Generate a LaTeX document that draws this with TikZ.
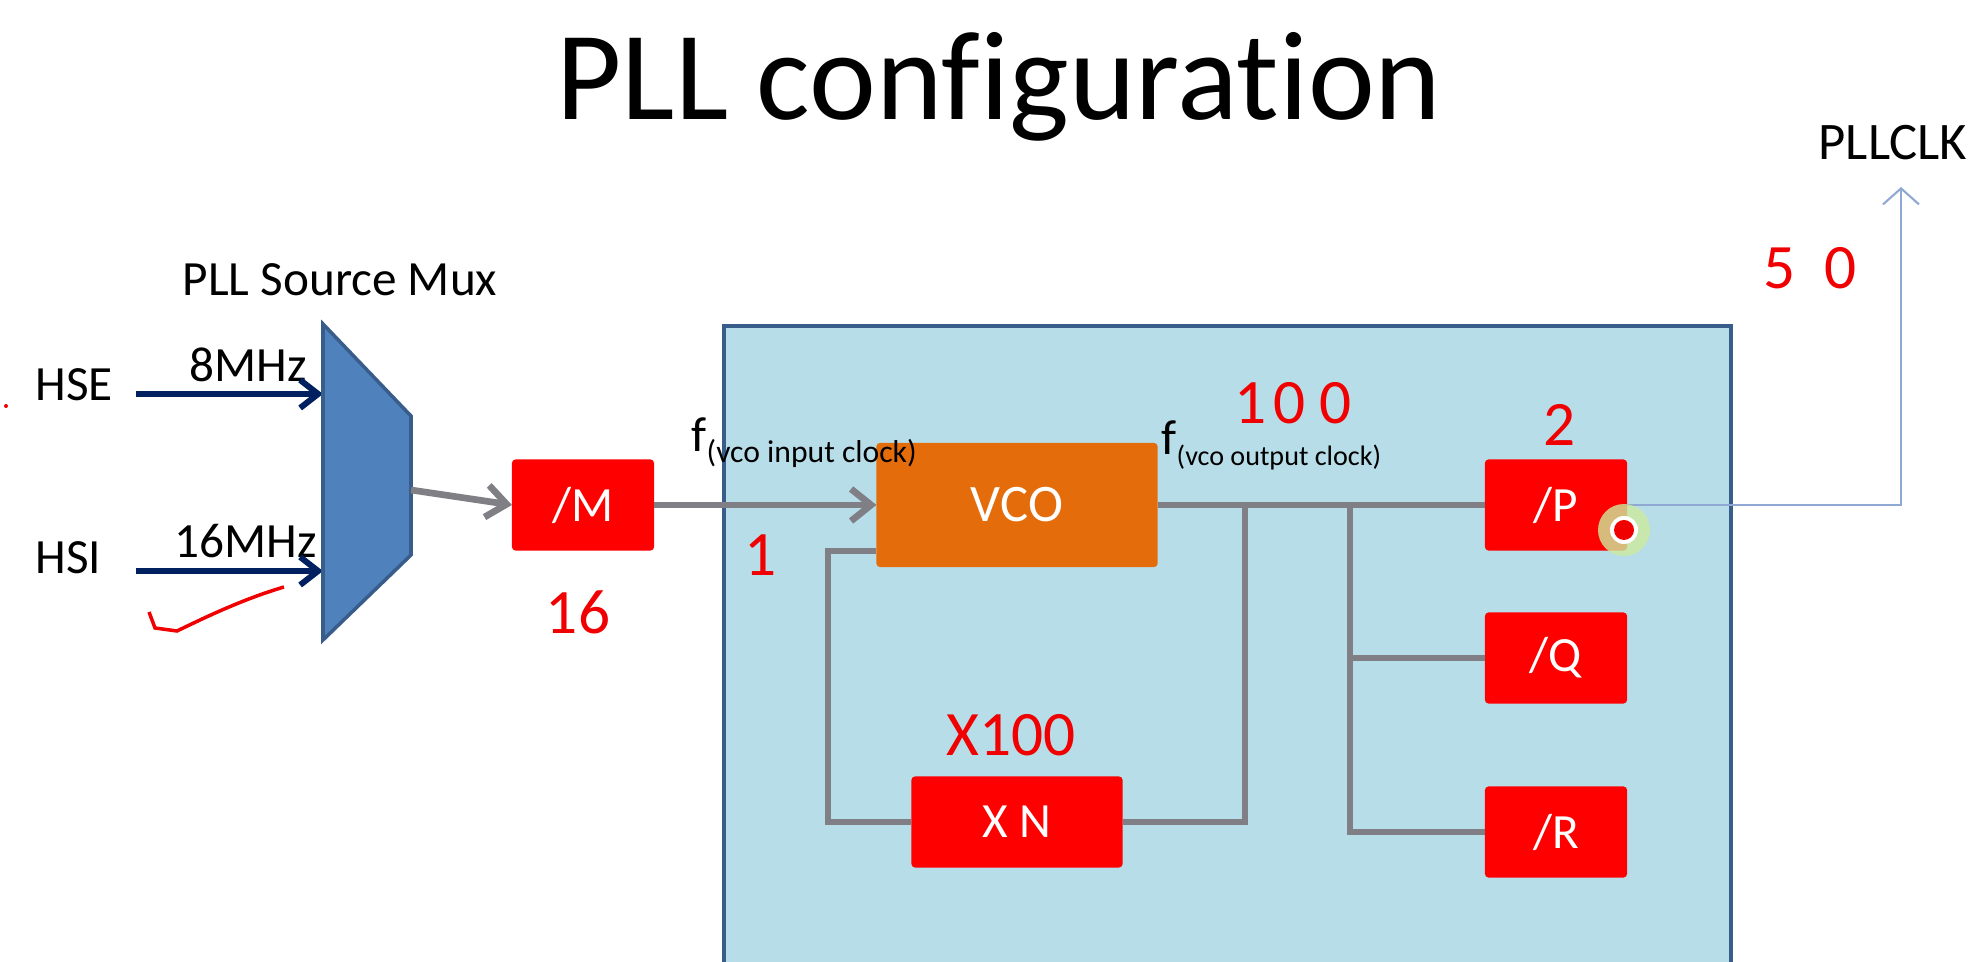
\documentclass[tikz,border=0pt]{standalone}
\usepackage{fontspec}
\setmainfont{Carlito}[Ligatures=NoCommon]
\usepackage{xcolor}
\usetikzlibrary{arrows.meta,positioning}
\definecolor{pllbg}{HTML}{B7DEE8}
\definecolor{pllframe}{HTML}{385D8A}
\definecolor{muxc}{HTML}{4F81BD}
\definecolor{navy}{HTML}{002060}
\definecolor{divc}{HTML}{FF0000}
\definecolor{vcoc}{HTML}{E46C0A}
\definecolor{wirec}{HTML}{7F7F85}
\definecolor{clkc}{HTML}{8FA8D4}
\definecolor{pen}{HTML}{F00000}

\begin{document}
\begin{tikzpicture}[x=0.01cm,y=-0.01cm,
  blk/.style={fill=divc,text=white,minimum width=1.42cm,minimum height=0.91cm,inner sep=0pt,outer sep=0pt,font=\fontsize{14}{16}\selectfont,rounded corners=1pt},
  wire/.style={draw=wirec,line width=1.9pt},
  garr/.style={wire,-{Straight Barb[length=2mm,width=3.2mm]}},
  inarr/.style={draw=navy,line width=1.7pt,-{Straight Barb[length=1.8mm,width=2.8mm]}},
  lbl/.style={inner sep=0pt,font=\fontsize{14}{16}\selectfont},
  hand/.style={text=pen,inner sep=0pt,font=\fontsize{18}{20}\selectfont}]
\fill[white] (0,0) rectangle (1978,962);
\useasboundingbox (0,0) rectangle (1978,962);
\node[lbl,anchor=base,font=\fontsize{36}{40}\selectfont] (title) at (999,120) {PLL configuration};
\node[draw=pllframe,fill=pllbg,line width=1.2pt,minimum width=10.06cm,minimum height=6.8cm,anchor=north west] (pll) at (722,324) {};
\coordinate (hsein) at (136,394);
\coordinate (hseend) at (323,394);
\coordinate (hsiin) at (136,571);
\coordinate (hsiend) at (323,571);
\coordinate (muxout) at (411,490);
\node[lbl,anchor=base] (muxlbl) at (340,296) {PLL Source Mux};
\node[lbl,anchor=base west] (hse) at (35,401) {HSE};
\node[lbl,anchor=base west] (hsefreq) at (189,382) {8MHz};
\node[lbl,anchor=base west] (hsi) at (35,574) {HSI};
\node[lbl,anchor=base west] (hsifreq) at (174,558) {16MHz};
\draw[inarr] (hsein) -- (hseend);
\draw[inarr] (hsiin) -- (hsiend);
\draw[draw=pllframe,fill=muxc,line width=1pt] (323,324) -- (411,416) -- (411,555) -- (323,640) -- cycle;
\node[blk] (m) at (583,505) {/M};
\node[blk,fill=vcoc,minimum width=2.81cm,minimum height=1.24cm,font=\fontsize{15}{17}\selectfont] (vco) at (1017,505) {VCO};
\node[blk] (p) at (1556,505) {/P};
\node[blk] (q) at (1556,658) {/Q};
\node[blk] (r) at (1556,832) {/R};
\node[blk,minimum width=2.11cm] (xn) at (1017,822) {X N};
\coordinate (tap1) at (1245,505);
\coordinate (tap2) at (1350,505);
\coordinate (fbtop) at (828,551);
\coordinate (clktip) at (1901,187);
\draw[wire] (vco.east) -- (p.west);
\draw[wire] (xn.east) -| (tap1);
\draw[wire] (tap2) |- (q.west);
\draw[wire] (tap2) |- (r.west);
\draw[wire] (xn.west) -| (fbtop) -- (vco.west |- fbtop);
\draw[garr] (muxout) -- (m.west);
\draw[garr] (m.east) -- (vco.west);
\node[lbl,font=\fontsize{15}{17}\selectfont,anchor=base] (pllclk) at (1893,160) {PLLCLK};
\draw[clkc,line width=0.6pt,-{Straight Barb[length=1.6mm,width=3.6mm]}] (p.east) -| (clktip);
\node[lbl,anchor=base west] (fin) at (691,452) {f\raisebox{-3pt}{\fontsize{9}{10}\selectfont(vco input clock)}};
\node[lbl,anchor=base west] (fout) at (1161,455) {f\raisebox{-3pt}{\fontsize{8}{10}\selectfont(vco output clock)}};
\node[hand] (mval) at (578,612) {16};
\node[hand] (inval) at (761,555) {1};
\node[hand] (outval) at (1293,403) {1\kern2pt0\kern4pt0};
\node[hand] (pval) at (1560,425) {2};
\node[hand] (clkval) at (1810,268) {5\kern8pt0};
\node[hand] (nval) at (1011,735) {X100};
\draw[pen,line width=1pt] (149,612) -- (155,628) -- (177,631) .. controls (200,620) and (240,600) .. (284,587);
\fill[pen] (6,406) circle (2);
\fill[yellow!50!green!40,opacity=0.8] (1624,530) circle (26);
\fill[white] (1624,530) circle (14);
\fill[pen] (1624,530) circle (10);
\end{tikzpicture}
\end{document}
